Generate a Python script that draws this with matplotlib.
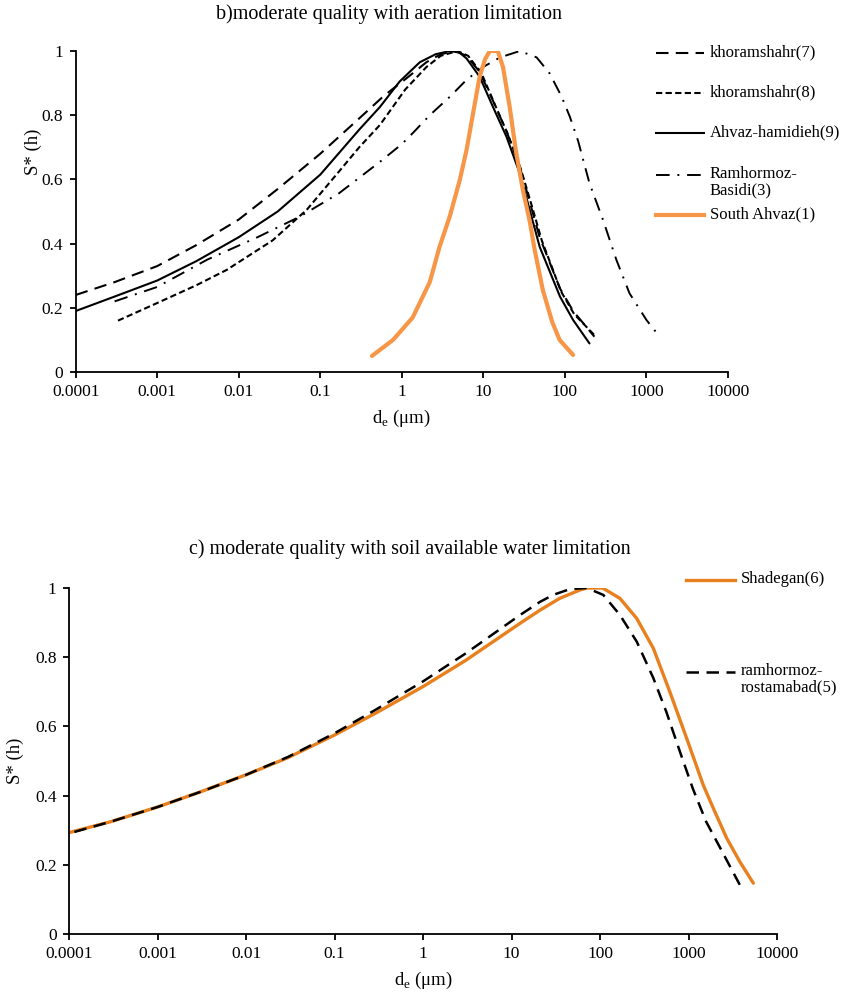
import matplotlib
matplotlib.use("Agg")
import matplotlib.pyplot as plt
from matplotlib.lines import Line2D

plt.rcParams['font.family'] = ['Liberation Serif', 'DejaVu Serif']
plt.rcParams['mathtext.fontset'] = 'custom'
plt.rcParams['mathtext.rm'] = 'Liberation Serif'

# ---------------- data: panel b ----------------
k7_x = [1e-4, 3e-4, 1e-3, 3e-3, 0.01, 0.03, 0.1, 0.3, 0.6, 1.14, 2, 3, 4.5, 6.2, 9, 13.1, 19.2, 27.9, 37, 49, 87, 126, 230]
k7_y = [0.24, 0.28, 0.33, 0.395, 0.475, 0.57, 0.68, 0.79, 0.86, 0.915, 0.965, 0.99, 1.0, 0.985, 0.935, 0.845, 0.75, 0.64, 0.53, 0.42, 0.26, 0.19, 0.11]

k8_x = [3.3e-4, 1e-3, 3e-3, 7.1e-3, 0.026, 0.068, 0.17, 0.3, 0.54, 1.1, 2, 3, 4.8, 6.5, 9.5, 14, 20, 29, 39, 52, 90, 130, 240]
k8_y = [0.16, 0.215, 0.27, 0.318, 0.41, 0.505, 0.625, 0.70, 0.77, 0.88, 0.95, 0.985, 1.0, 0.985, 0.93, 0.83, 0.74, 0.63, 0.52, 0.41, 0.25, 0.18, 0.11]

a9_x = [1e-4, 3e-4, 1e-3, 3e-3, 0.01, 0.03, 0.1, 0.3, 0.54, 0.94, 1.66, 2.6, 3.9, 5.1, 6.2, 9, 13.1, 19.2, 27.9, 37, 49, 87, 126, 200]
a9_y = [0.19, 0.235, 0.285, 0.345, 0.42, 0.50, 0.615, 0.755, 0.826, 0.905, 0.965, 0.99, 1.0, 0.995, 0.977, 0.92, 0.826, 0.733, 0.619, 0.505, 0.39, 0.235, 0.162, 0.089]

r3_x = [3e-4, 1e-3, 4.1e-3, 0.017, 0.056, 0.17, 0.54, 1.0, 1.37, 2.2, 3.9, 6.2, 9.9, 16, 28, 45, 65, 91, 115, 145, 200, 294, 428, 620, 1000, 1450]
r3_y = [0.22, 0.265, 0.35, 0.42, 0.484, 0.557, 0.655, 0.71, 0.745, 0.80, 0.858, 0.91, 0.95, 0.98, 1.0, 0.98, 0.93, 0.858, 0.795, 0.72, 0.588, 0.473, 0.349, 0.245, 0.162, 0.11]

s1_x = [0.43, 0.78, 1.36, 2.2, 2.9, 3.86, 5.1, 6.2, 7.4, 9, 10.5, 12, 15, 17.4, 21, 25, 30.5, 37, 42.6, 53.6, 70, 86, 126]
s1_y = [0.05, 0.10, 0.17, 0.28, 0.39, 0.484, 0.595, 0.69, 0.80, 0.92, 0.975, 1.0, 1.0, 0.95, 0.826, 0.69, 0.567, 0.47, 0.38, 0.255, 0.155, 0.10, 0.053]

# ---------------- data: panel c ----------------
sh_x = [1e-4, 3e-4, 1e-3, 3e-3, 1e-2, 3e-2, 0.1, 0.3, 1, 3, 12.5, 21, 35, 59, 71, 107, 168, 260, 400, 615, 952, 1470, 1910, 2700, 3800, 5400]
sh_y = [0.293, 0.325, 0.367, 0.41, 0.46, 0.51, 0.575, 0.64, 0.715, 0.79, 0.898, 0.936, 0.97, 0.994, 1.0, 1.0, 0.97, 0.912, 0.826, 0.70, 0.566, 0.43, 0.363, 0.277, 0.209, 0.147]

ro_x = [1.15e-4, 3e-4, 1e-3, 3e-3, 1e-2, 3e-2, 0.1, 0.3, 1, 3, 12.5, 21, 29.5, 46, 71, 109, 168, 260, 400, 560, 800, 1120, 1580, 2290, 3800]
ro_y = [0.295, 0.325, 0.367, 0.41, 0.46, 0.512, 0.58, 0.65, 0.73, 0.81, 0.922, 0.96, 0.98, 0.997, 1.0, 0.98, 0.922, 0.845, 0.74, 0.643, 0.527, 0.42, 0.325, 0.248, 0.142]

xticks = [1e-4, 1e-3, 1e-2, 1e-1, 1, 10, 100, 1000, 10000]
xtick_labels = ['0.0001', '0.001', '0.01', '0.1', '1', '10', '100', '1000', '10000']
yticks = [0, 0.2, 0.4, 0.6, 0.8, 1.0]
ytick_labels = ['0', '0.2', '0.4', '0.6', '0.8', '1']

top_series = [
    ('khoramshahr(7)', k7_x, k7_y, dict(color='black', lw=1.5, ls=(0, (6, 3.5)))),
    ('khoramshahr(8)', k8_x, k8_y, dict(color='black', lw=1.5, ls=(0, (3, 1.6)))),
    ('Ahvaz-hamidieh(9)', a9_x, a9_y, dict(color='black', lw=1.5, ls='-')),
    ('Ramhormoz-\nBasidi(3)', r3_x, r3_y, dict(color='black', lw=1.4, ls=(0, (7, 4, 1, 4)))),
    ('South Ahvaz(1)', s1_x, s1_y, dict(color='#F79646', lw=3.0, ls='-')),
]
bot_series = [
    ('Shadegan(6)', sh_x, sh_y, dict(color='#E8801E', lw=2.4, ls='-')),
    ('ramhormoz-\nrostamabad(5)', ro_x, ro_y, dict(color='black', lw=1.8, ls=(0, (5, 3)))),
]

W, H = 846, 1000
fig = plt.figure(figsize=(W / 100, H / 100), dpi=100)


def setup(ax):
    ax.set_xscale('log')
    ax.set_xlim(1e-4, 1e4)
    ax.set_ylim(0, 1)
    ax.set_xticks(xticks)
    ax.set_xticklabels(xtick_labels)
    ax.set_yticks(yticks)
    ax.set_yticklabels(ytick_labels)
    ax.minorticks_off()
    for s in ['top', 'right']:
        ax.spines[s].set_visible(False)
    for s in ['left', 'bottom']:
        ax.spines[s].set_linewidth(1.3)
    ax.tick_params(direction='out', length=4, width=1.3, labelsize=12.5, pad=5)
    ax.set_xlabel(r'd$_\mathrm{e}$ ($\mathrm{\mu}$m)', fontsize=13.5, labelpad=5)
    ax.set_ylabel('S* (h)', fontsize=13.5)


def legend(entries, x0, x1, ys, fs=12):
    for (label, xs, yv, st), y in zip(entries, ys):
        fig.add_artist(Line2D([x0 / W, x1 / W], [1 - y / H, 1 - y / H],
                              transform=fig.transFigure, color=st['color'],
                              lw=st['lw'], ls=st['ls']))
        fig.text((x1 + 6) / W, 1 - (y - 9) / H, label, fontsize=fs,
                 va='top', ha='left', linespacing=1.05)


# top panel
ax1 = fig.add_axes([75.7 / W, 1 - 372 / H, (728 - 75.7) / W, (372 - 51) / H])
setup(ax1)
for label, xs, ys, st in top_series:
    ax1.plot(xs, ys, solid_joinstyle='round', solid_capstyle='round', **st)
ax1.yaxis.set_label_coords(-0.052, 0.685)
fig.text(389 / W, 1 - 14 / H, 'b)moderate quality with aeration limitation',
         fontsize=14.5, ha='center', va='center')
legend(top_series, 656, 704, [53, 93, 133, 175, 215])

# bottom panel
ax2 = fig.add_axes([69 / W, 1 - 934 / H, (777 - 69) / W, (934 - 588) / H])
setup(ax2)
for label, xs, ys, st in bot_series:
    ax2.plot(xs, ys, solid_joinstyle='round', solid_capstyle='round', **st)
ax2.yaxis.set_label_coords(-0.064, 0.5)
fig.text(410 / W, 1 - 549 / H, 'c) moderate quality with soil available water limitation',
         fontsize=14.5, ha='center', va='center')
legend(bot_series, 686, 735, [580, 672])

fig.savefig('out.png', dpi=100)
